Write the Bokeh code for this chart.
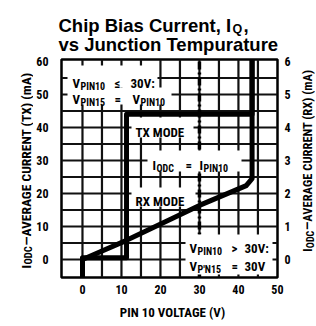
import math
from bokeh.plotting import figure
from bokeh.layouts import column, row
from bokeh.models import Range1d, LinearAxis, FixedTicker, Label
from bokeh.core.properties import value
from bokeh.embed import file_html
from bokeh.resources import INLINE

# ---------------- data ----------------
tx_x = [0, 0, 11.3, 11.3, 43.5, 43.5]          # PIN 10 voltage (V)
tx_y = [-5.45, 0.5, 0.5, 44, 44, 60.6]          # TX current (mA)
rx_x = [0, 11.3, 30, 42, 43.5, 43.5]            # PIN 10 voltage (V)
rx_y = [0.0, 0.58, 1.64, 2.24, 2.45, 6.06]      # RX current (mA)
marker_x = 30                                   # V_PIN10 = 30 V boundary
x_ticks = [0, 10, 20, 30, 40, 50]
tx_ticks = [0, 10, 20, 30, 40, 50, 60]
rx_ticks = [0, 1, 2, 3, 4, 5, 6]
x_grid = [0, 5, 10, 15, 20, 25, 30, 35, 40, 45]
y_grid = [0, 5, 10, 15, 20, 25, 30, 35, 40, 45, 50, 55]

# ---------------- layout (page pixels, page origin = canvas origin) ----------------
X0, X1 = -5.38, 50.02
Y0, Y1 = -5.45, 60.6
FL, FR, FT, FB = 61, 277, 59, 277      # frame edges
NARROW = "Roboto Condensed, Roboto"
SANS = "Liberation Sans"
TOTAL_W = 315

MX, MY = 33, 55                        # main figure's top-left
RX0 = 295                              # right text panel's left edge
MW, MH = RX0 - MX, 245
p = figure(width=MW, height=MH, x_range=Range1d(X0, X1), y_range=Range1d(Y0, Y1),
           output_backend="svg", toolbar_location=None, title=None,
           min_border_left=FL - MX, min_border_right=MX + MW - FR,
           min_border_top=FT - MY, min_border_bottom=MY + MH - FB)
p.extra_y_ranges = {"rx": Range1d(Y0 / 10, Y1 / 10)}
p.outline_line_color = "black"
p.outline_line_width = 2.5
p.grid.visible = False

def style_axis(ax, standoff):
    ax.axis_line_color = None
    ax.major_tick_in = 0
    ax.major_tick_out = 0
    ax.minor_tick_line_color = None
    ax.major_tick_line_color = None
    ax.major_label_standoff = standoff
    ax.major_label_text_font = NARROW
    ax.major_label_text_font_style = "bold"
    ax.major_label_text_font_size = "12px"
    ax.major_label_text_color = "black"

p.xaxis.ticker = FixedTicker(ticks=x_ticks)
p.yaxis.ticker = FixedTicker(ticks=tx_ticks)
style_axis(p.xaxis[0], 7)
style_axis(p.yaxis[0], 13)
rax = LinearAxis(y_range_name="rx", ticker=FixedTicker(ticks=rx_ticks))
style_axis(rax, 7)
p.add_layout(rax, "right")

# grid: one line renderer per grid line
for g in x_grid:
    p.line([g, g], [Y0, Y1], line_color="#111111", line_width=2.2)
for g in y_grid:
    p.line([X0, X1], [g, g], line_color="#111111", line_width=2.2)

# page px -> data
def dx(px):
    return X0 + (px - FL) / (FR - FL) * (X1 - X0)

def dy(py):
    return Y0 + (FB - py) / (FB - FT) * (Y1 - Y0)

# dashed boundary line
p.line([marker_x, marker_x], [Y0, Y1], line_color="black", line_width=3.5,
       line_dash="8 3 2 3")

# white label boxes (left, right, top, bottom in page px)
boxes = [(67, 157, 65, 87), (67, 171, 87, 104), (131, 193, 117, 137),
         (147, 241, 150, 171), (131, 195, 187, 206), (185, 272, 234, 274)]
p.quad(left=[dx(b[0]) for b in boxes], right=[dx(b[1]) for b in boxes],
       top=[dy(b[2]) for b in boxes], bottom=[dy(b[3]) for b in boxes],
       fill_color="white", line_color=None)

# curves
p.line(tx_x, tx_y, line_color="black", line_width=5, line_join="round")
p.line(rx_x, rx_y, y_range_name="rx", line_color="black", line_width=5,
       line_join="round")

def txt(s, px, py, size, font=NARROW):
    p.add_layout(Label(x=px - FL, y=FB - py, x_units="screen", y_units="screen",
                       text=s, text_font=font, text_font_style="bold",
                       text_font_size=f"{size}px", text_color="black",
                       text_baseline="alphabetic", text_align="left"))

M, S = 13, 10
# top-left condition
txt("V", 72, 83, M); txt("PIN10", 80, 85.5, S); txt("\u2264", 114, 83, M); txt("30V:", 130, 83, M)
txt("V", 72, 99, M); txt("PIN15", 80, 101.5, S); txt("=", 114, 99, M)
txt("V", 132, 99, M); txt("PIN10", 140, 101.5, S)
# modes
txt("TX MODE", 135, 132, M)
txt("RX MODE", 135, 201, M)
# I_ODC = I_PIN10
txt("I", 152, 165, M); txt("ODC", 156, 167.5, S); txt("=", 185, 165, M)
txt("I", 199, 165, M); txt("PIN10", 203, 167.5, S)
# lower-right condition
txt("V", 189, 248, M); txt("PIN10", 197, 250.5, S); txt(">", 231, 248, M); txt("30V:", 244, 248, M)
txt("V", 189, 266, M); txt("P'N15", 197, 268.5, S); txt("=", 231, 266, M); txt("30V", 244, 266, M)

# ---------------- text panels around the chart ----------------
def text_fig(px0, py0, w, h):
    f = figure(width=w, height=h, x_range=Range1d(px0, px0 + w), y_range=Range1d(0, h),
               x_axis_type=None, y_axis_type=None, toolbar_location=None,
               output_backend="svg", min_border=0, title=None)
    f.outline_line_color = None
    f.grid.visible = False
    return f

def put(f, py0, h, s, px, py, size, font=NARROW, angle=0.0, align="left"):
    f.text(x=[px], y=[py0 + h - py], text=[s], angle=angle,
           text_font=value(font), text_font_style="bold",
           text_font_size=f"{size}px", text_color="black",
           text_baseline="alphabetic", text_align=align)

TH = MY
tf = text_fig(0, 0, TOTAL_W, TH)
put(tf, 0, TH, "Chip Bias Current, I", 58, 25, 18.5, font=SANS)
put(tf, 0, TH, "Q", 232, 28, 12.5, font=SANS)
put(tf, 0, TH, ",", 243, 25, 18.5, font=SANS)
put(tf, 0, TH, "vs Junction Tempurature", 58, 44, 18.5, font=SANS)

up = math.pi / 2
lf = text_fig(0, MY, MX, MH)
put(lf, MY, MH, "I", 25, 290, 13.5, angle=up)
put(lf, MY, MH, "ODC", 27.5, 285.5, 10.5, angle=up)
put(lf, MY, MH, "\u2014AVERAGE CURRENT (TX) (mA)", 25, 264, 13.5, angle=up)

RW = TOTAL_W - RX0
rf = text_fig(RX0, MY, RW, MH)
put(rf, MY, MH, "I", 307, 271, 12.5, angle=up)
put(rf, MY, MH, "ODC", 309.5, 267, 10, angle=up)
put(rf, MY, MH, "\u2014AVERAGE CURRENT (RX) (mA)", 307, 246.5, 12.5, angle=up)

BY0 = MY + MH
BH = 324 - BY0
bf = text_fig(0, BY0, TOTAL_W, BH)
put(bf, BY0, BH, "PIN 10 VOLTAGE (V)", 172, 312, 13, align="center")

layout = column(tf, row(lf, p, rf), bf)
open("out.html", "w").write(file_html(layout, INLINE))
